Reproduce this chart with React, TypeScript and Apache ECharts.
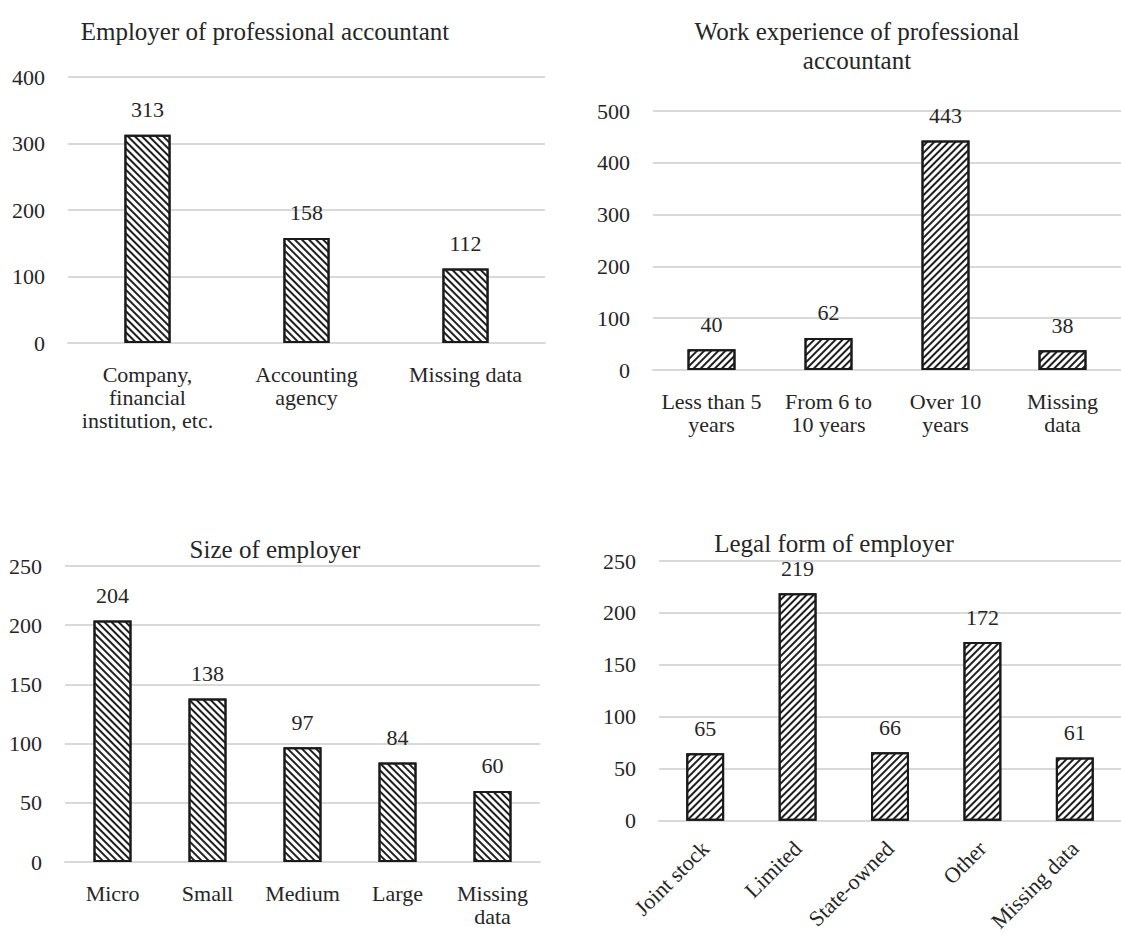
import React, { useEffect, useRef } from "react";
import * as echarts from "echarts";

// Panel 1: employer of professional accountant
const employerCats = ["Company,\nfinancial\ninstitution, etc.", "Accounting\nagency", "Missing data"];
const employerVals = [313, 158, 112];

// Panel 2: work experience
const experienceCats = ["Less than 5\nyears", "From 6 to\n10 years", "Over 10\nyears", "Missing\ndata"];
const experienceVals = [40, 62, 443, 38];

// Panel 3: size of employer
const sizeCats = ["Micro", "Small", "Medium", "Large", "Missing\ndata"];
const sizeVals = [204, 138, 97, 84, 60];

// Panel 4: legal form of employer
const legalCats = ["Joint stock", "Limited", "State-owned", "Other", "Missing data"];
const legalVals = [65, 219, 66, 172, 61];

const titles = [
  "Employer of professional accountant",
  "Work experience of professional\naccountant",
  "Size of employer",
  "Legal form of employer",
];

const FONT = "'Liberation Serif', 'Times New Roman', serif";
const TEXT = "#262626";
const GRID_LINE = "#d9d9d9";

// diagonal hatch fill; dir 1 draws "\" stripes, dir -1 draws "/" stripes
function hatch(dir: 1 | -1) {
  return {
    symbol: "rect",
    symbolSize: 1,
    dashArrayX: [1, 0],
    dashArrayY: [1.8, 3],
    rotation: (dir * Math.PI) / 4,
    color: "#1f1f1f",
  };
}

export default function App() {
  const ref = useRef<HTMLDivElement>(null);

  useEffect(() => {
    if (!ref.current) return;
    const chart = echarts.init(ref.current, undefined, { renderer: "svg" });

    const grids = [
      { left: 68, top: 77, width: 477, height: 266 },
      { left: 653, top: 111, width: 474, height: 259 },
      { left: 65, top: 566, width: 475, height: 296 },
      { left: 659, top: 561, width: 474, height: 260 },
    ];

    const cats = [employerCats, experienceCats, sizeCats, legalCats];
    const vals = [employerVals, experienceVals, sizeVals, legalVals];
    const maxes = [400, 500, 250, 250];
    const steps = [100, 100, 50, 50];
    const barWidths = ["29%", "41%", "40%", "41%"];
    const dirs: (1 | -1)[] = [1, -1, 1, -1];

    const titlePos = [
      { left: 260, top: 12 },
      { left: 852, top: 12 },
      { left: 270, top: 530 },
      { left: 829, top: 524 },
    ];

    const option: any = {
      animation: false,
      backgroundColor: "#ffffff",
      title: titles.map((t, i) => ({
        text: t,
        left: titlePos[i].left,
        top: titlePos[i].top,
        textAlign: "center",
        textStyle: {
          fontFamily: FONT,
          fontSize: 25,
          fontWeight: "normal",
          color: TEXT,
          lineHeight: 29,
        },
      })),
      grid: grids.map((g) => ({ ...g, containLabel: false })),
      xAxis: cats.map((c, i) => ({
        type: "category",
        gridIndex: i,
        data: c,
        axisLine: { show: true, lineStyle: { color: GRID_LINE, width: 2 } },
        axisTick: { show: false },
        axisLabel: {
          interval: 0,
          fontFamily: FONT,
          fontSize: 22,
          color: TEXT,
          lineHeight: 23,
          margin: i === 3 ? 24 : 20,
          rotate: i === 3 ? 45 : 0,
        },
      })),
      yAxis: cats.map((_, i) => ({
        type: "value",
        gridIndex: i,
        min: 0,
        max: maxes[i],
        interval: steps[i],
        axisLine: { show: false },
        axisTick: { show: false },
        splitLine: { lineStyle: { color: GRID_LINE, width: 2 } },
        axisLabel: {
          fontFamily: FONT,
          fontSize: 22,
          color: TEXT,
          margin: 23,
        },
      })),
      series: vals.map((v, i) => ({
        type: "bar",
        xAxisIndex: i,
        yAxisIndex: i,
        data: v,
        barWidth: barWidths[i],
        itemStyle: {
          color: "#ffffff",
          borderColor: "#1a1a1a",
          borderWidth: 2,
          decal: hatch(dirs[i]),
        },
        label: {
          show: true,
          position: "top",
          distance: 14,
          fontFamily: FONT,
          fontSize: 22,
          color: TEXT,
        },
      })),
    };

    chart.setOption(option);
    return () => chart.dispose();
  }, []);

  return (
    <div
      ref={ref}
      style={{ position: "fixed", left: 0, top: 0, width: 1121, height: 935, background: "#fff" }}
    />
  );
}
